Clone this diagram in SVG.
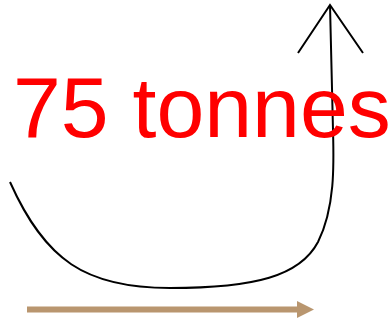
<svg xmlns="http://www.w3.org/2000/svg" width="390" height="322" viewBox="0 0 390 322">
<style>
.line{fill:none;stroke:#000;stroke-width:2}
.label{font-family:"Liberation Sans",Arial,sans-serif;font-size:86px;fill:#ff0000}
</style>
<rect width="390" height="322" fill="#fff"/>
<g id="connectors">
<path class="line" d="M10,182 C45,260 85,288 170,288 C255,288 300,276 318,242 C335,208 334,165 333,130 L330,5"/>
<path class="line" d="M298,53 L330,5 L363,53"/>
<g id="brown-arrow">
<rect x="27" y="306.5" width="272" height="6" fill="#b9966f"/>
<path d="M297,301 L314,309.5 L297,318 Z" fill="#b9966f"/>
</g>
</g>
<g id="label">
<text class="label" x="13" y="137">75 tonnes</text>
</g>
</svg>
